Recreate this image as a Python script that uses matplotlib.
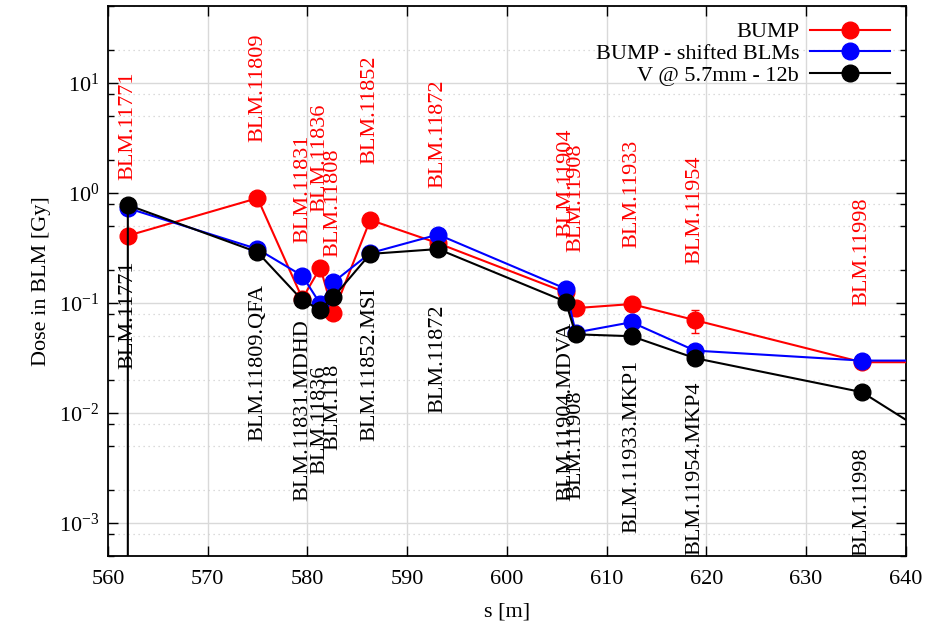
import matplotlib
matplotlib.use("Agg")
import matplotlib.pyplot as plt
from matplotlib.ticker import LogLocator, LogFormatterMathtext, MultipleLocator, NullFormatter
from matplotlib.lines import Line2D

plt.rcParams['font.family'] = ['Liberation Serif', 'DejaVu Serif']
plt.rcParams['mathtext.fontset'] = 'stix'

# Positions of BLMs [m]
s_bump = [562.0, 575.0, 579.5, 581.3, 582.6, 586.3, 593.1, 605.9, 606.9, 612.5, 618.85, 635.6, 645.0]
d_bump = [0.41, 0.90, 0.11, 0.21, 0.081, 0.57, 0.35, 0.125, 0.09, 0.098, 0.070, 0.029, 0.029]
e_bump = [0, 0, 0, 0, 0, 0, 0, 0, 0, 0, 0.016, 0.003, 0]

s_shift = [562.0, 575.0, 579.5, 581.3, 582.6, 586.3, 593.1, 605.9, 606.9, 612.5, 618.85, 635.6, 645.0]
d_shift = [0.73, 0.31, 0.177, 0.098, 0.155, 0.285, 0.42, 0.135, 0.054, 0.067, 0.037, 0.030, 0.030]

s_v = [562.0, 562.0, 575.0, 579.5, 581.3, 582.6, 586.3, 593.1, 605.9, 606.9, 612.5, 618.85, 635.6, 645.0]
d_v = [1e-5, 0.78, 0.29, 0.106, 0.087, 0.113, 0.28, 0.31, 0.103, 0.052, 0.050, 0.0316, 0.0155, 0.0045]

# BLM labels
lab_s = [562.0, 575.0, 579.5, 581.3, 582.6, 586.3, 593.1, 605.9, 606.9, 612.5, 618.85, 635.6]
lab_red = ["BLM.11771", "BLM.11809", "BLM.11831", "BLM.11836", "BLM.11808", "BLM.11852",
           "BLM.11872", "BLM.11904", "BLM.11908", "BLM.11933", "BLM.11954", "BLM.11998"]
lab_black = ["BLM.11771", "BLM.11809.QFA", "BLM.11831.MDHD", "BLM.11836", "BLM.118",
             "BLM.11852.MSI", "BLM.11872", "BLM.11904.MDVA", "BLM.11908", "BLM.11933.MKP1",
             "BLM.11954.MKP4", "BLM.11998"]

series_names = ['BUMP', 'BUMP - shifted BLMs', 'V @ 5.7mm - 12b']
series_colors = ['#ff0000', '#0000ff', 'black']

fig = plt.figure(figsize=(9.3, 6.27), dpi=100)
ax = fig.add_axes([0.116, 0.113, 0.858, 0.877])

ms = 12
lw = 1.5
ax.errorbar(s_bump, d_bump, yerr=e_bump, color=series_colors[0], marker='o', ms=ms, lw=lw,
            capsize=3, elinewidth=1, zorder=3)
ax.plot(s_shift, d_shift, color=series_colors[1], marker='o', ms=ms, lw=lw, zorder=4)
ax.plot(s_v, d_v, color=series_colors[2], marker='o', ms=ms, lw=lw, zorder=5)

ax.set_yscale('log')
ax.set_xlim(560, 640)
ax.set_ylim(5e-4, 50)

fs = 16
# labels: red centred a decade above BUMP value, black a decade below V value
red_at = dict(zip(s_bump, d_bump))
v_at = dict(zip(s_v[1:], d_v[1:]))
for s, t in zip(lab_s, lab_red):
    ax.text(s, red_at[s] * 10, t, color='#ff0000', rotation=90, ha='center', va='center',
            fontsize=fs, zorder=6, clip_on=True)
for s, t in zip(lab_s, lab_black):
    ax.text(s, v_at[s] / 10, t, color='black', rotation=90, ha='center', va='center',
            fontsize=fs, zorder=6, clip_on=True)

ax.xaxis.set_major_locator(MultipleLocator(10))
ax.yaxis.set_major_locator(LogLocator(base=10, numticks=20))
ax.yaxis.set_major_formatter(LogFormatterMathtext())
ax.yaxis.set_minor_locator(LogLocator(base=10, subs=(2.0, 5.0, 8.0), numticks=20))
ax.yaxis.set_minor_formatter(NullFormatter())

ax.tick_params(which='both', direction='in', top=True, right=True, labelsize=fs)
ax.tick_params(which='major', length=7, width=1)
ax.tick_params(which='minor', length=4, width=1)
ax.tick_params(axis='x', pad=10)
ax.tick_params(axis='y', pad=6)

ax.grid(True, which='major', color='#d9d9d9', lw=1, ls='-')
ax.grid(True, which='minor', axis='y', color='#d0d0d0', lw=0.9, ls=(0, (1, 3)))
ax.set_axisbelow(True)
for sp in ax.spines.values():
    sp.set_linewidth(1.3)

ax.set_xlabel('s [m]', fontsize=fs, labelpad=10)
ax.set_ylabel('Dose in BLM [Gy]', fontsize=fs, labelpad=6)

handles = [Line2D([], [], color=c, marker='o', ms=ms, lw=lw) for c in series_colors]
leg = ax.legend(handles, series_names, loc='upper right', frameon=False, markerfirst=False,
                fontsize=fs, handlelength=3.6, borderaxespad=0.4, labelspacing=0.05,
                handletextpad=0.5, borderpad=0.3)
for t in leg.get_texts():
    t.set_ha('right')
leg._legend_box.align = 'right'

fig.savefig('out.png', dpi=100)
